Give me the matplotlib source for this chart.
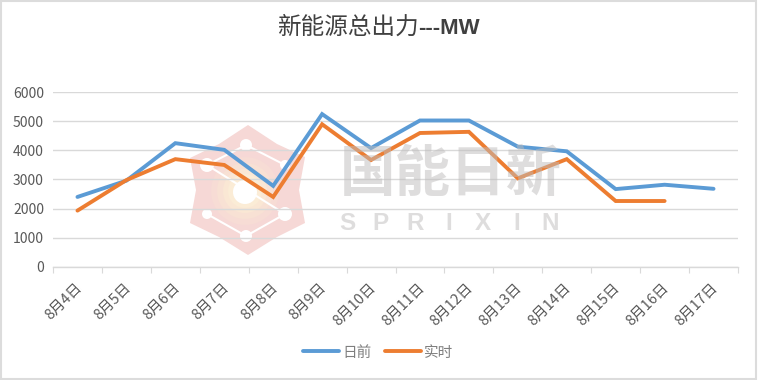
import matplotlib
matplotlib.use("Agg")
import matplotlib.pyplot as plt
from matplotlib.patches import Polygon, Circle, Rectangle
from matplotlib.lines import Line2D

plt.rcParams["font.family"] = ["Noto Sans CJK SC", "DejaVu Sans"]

dates = ["8月4日", "8月5日", "8月6日", "8月7日", "8月8日", "8月9日", "8月10日",
         "8月11日", "8月12日", "8月13日", "8月14日", "8月15日", "8月16日", "8月17日"]
day_ahead = [2400, 2960, 4250, 4020, 2780, 5250, 4080, 5030, 5030, 4130, 3970, 2670, 2820, 2680]
real_time = [1930, 2980, 3700, 3500, 2400, 4900, 3670, 4600, 4640, 3040, 3700, 2260, 2260]
y_ticks = [0, 1000, 2000, 3000, 4000, 5000, 6000]

W, H = 758, 380
BLUE = "#5B9BD5"
ORANGE = "#ED7D31"
GREY = "#595959"

fig = plt.figure(figsize=(W / 100, H / 100), dpi=100)
ax = fig.add_axes([53 / W, 1 - 266.7 / H, 685 / W, 174.4 / H])
ax.set_zorder(1)
ax.patch.set_alpha(0)

# frame and logo behind the chart
bg = fig.add_axes([0, 0, 1, 1], zorder=0)
bg.set_xlim(0, W)
bg.set_ylim(H, 0)
bg.axis("off")
bg.add_patch(Rectangle((1, 1), 755, 378, fill=False, ec="#DCDCDC", lw=1.5))

star = [(248, 125), (277, 144), (305, 157), (299, 190), (305, 223), (277, 237),
        (248, 255), (219, 237), (190, 223), (196, 190), (190, 158), (219, 144)]
bg.add_patch(Polygon(star, closed=True, fc="#F6D8D6", ec="none"))
for r, c in [(34, "#F7DCD5"), (28, "#F8E1D4"), (22, "#FAE7D4"), (17, "#FBECD6")]:
    bg.add_patch(Circle((245, 191), r, fc=c, ec="none"))
links = [((246, 145), (207, 165)), ((246, 145), (285, 165)), ((207, 165), (285, 214)),
         ((207, 214), (246, 236)), ((246, 236), (285, 214))]
for a, b in links:
    bg.plot([a[0], b[0]], [a[1], b[1]], color="white", lw=1.5)
nodes = [(246, 145), (207, 165), (285, 165), (207, 214), (246, 236), (285, 214), (245, 192)]
sizes = [6, 7, 5, 5, 6, 7, 12]
for (nx, ny), r in zip(nodes, sizes):
    bg.add_patch(Circle((nx, ny), r, fc="white", ec="none"))

# watermark text sits over the lines, half transparent
wm = fig.add_axes([0, 0, 1, 1], zorder=2)
wm.set_xlim(0, W)
wm.set_ylim(H, 0)
wm.axis("off")
wm.text(451, 175, "国能日新", fontsize=40, fontweight="bold", color="#BEBCBC", alpha=0.5,
        ha="center", va="center")
for i, ch in enumerate("SPRIXIN"):
    wm.text(347 + 33.9 * i, 224, ch, fontsize=17.5, fontweight="bold", color="#BEBCBC",
            alpha=0.5, ha="center", va="center", family="Liberation Sans")

x = list(range(len(dates)))
ax.plot(x, day_ahead, color=BLUE, lw=2.8, solid_capstyle="round", solid_joinstyle="miter")
ax.plot(x[:len(real_time)], real_time, color=ORANGE, lw=2.8, solid_capstyle="round", solid_joinstyle="miter")

ax.set_xlim(-0.5, len(dates) - 0.5)
ax.set_ylim(0, 6000)
ax.set_yticks(y_ticks)
ax.grid(axis="y", color="#D9D9D9", lw=1)
ax.set_axisbelow(True)
for s in ["top", "left", "right"]:
    ax.spines[s].set_visible(False)
ax.spines["bottom"].set_color("#D9D9D9")
ax.spines["bottom"].set_linewidth(1)
ax.tick_params(axis="y", length=0, labelsize=10, labelcolor=GREY, pad=6.5)

ax.set_xticks([i - 0.5 for i in range(len(dates) + 1)])
ax.set_xticklabels([])
ax.tick_params(axis="x", length=4, color="#D9D9D9", direction="out")
for i, d in zip(x, dates):
    ax.annotate(d, (i, 0), xytext=(-2, -10), textcoords="offset points", xycoords="data",
                rotation=45, rotation_mode="anchor", ha="right", va="top",
                fontsize=10.5, color=GREY)

fig.text(347.5 / W, 1 - 27 / H, "新能源总出力", fontsize=17, color="#404040", ha="center", va="center")
fig.text(449 / W, 1 - 28 / H, "---MW", fontsize=16, fontweight="bold", family="Liberation Sans",
         color="#404040", ha="center", va="center")

handles = [Line2D([], [], color=BLUE, lw=2.8, solid_capstyle="round"),
           Line2D([], [], color=ORANGE, lw=2.8, solid_capstyle="round")]
fig.legend(handles, ["日前", "实时"], loc="center", bbox_to_anchor=(378 / W, 1 - 352.5 / H), ncol=2,
           frameon=False, fontsize=10.5, labelcolor="#7F7F7F", handlelength=2.5,
           handletextpad=0.2, columnspacing=0.9)

fig.savefig("out.png", dpi=100)
